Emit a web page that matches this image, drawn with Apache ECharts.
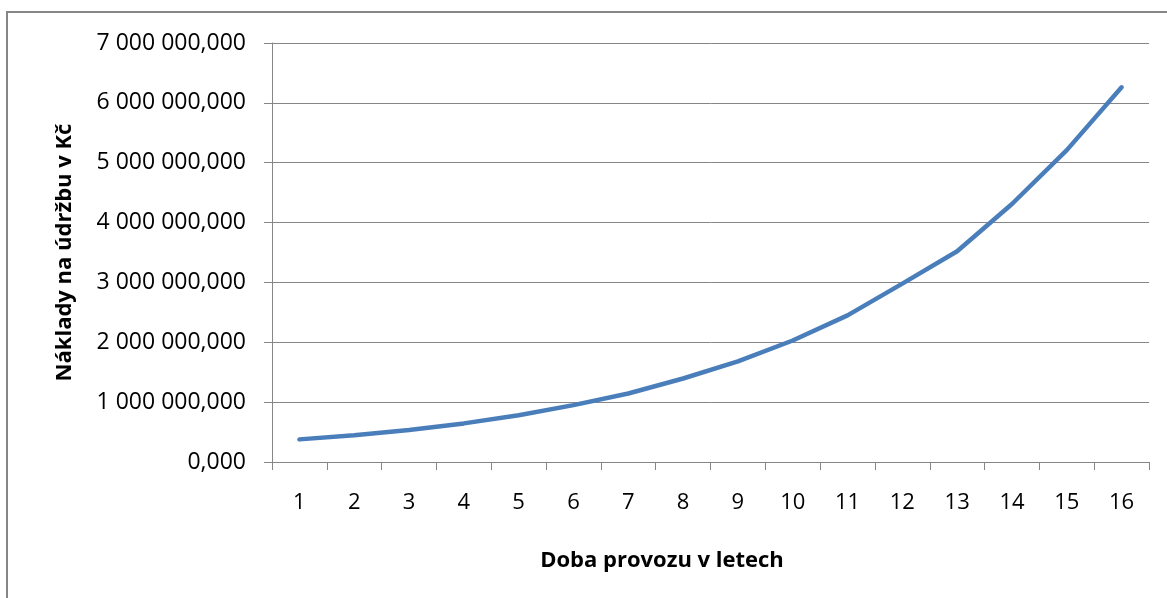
<!DOCTYPE html>
<html>
<head>
  <meta charset="UTF-8">
  <title>Náklady na údržbu</title>
  <script src="https://cdn.jsdelivr.net/npm/echarts@6/dist/echarts.min.js"></script>
  <style>
    html, body { margin: 0; padding: 0; background: #fff; }
    #main { width: 1167px; height: 598px; }
  </style>
</head>
<body>
  <div id="main"></div>
<script>
  // years of operation
  const years = ['1', '2', '3', '4', '5', '6', '7', '8', '9', '10', '11', '12', '13', '14', '15', '16'];
  // maintenance cost in CZK
  const costs = [378000, 445000, 533000, 645000, 780000, 950000, 1145000, 1395000, 1680000, 2030000, 2450000, 2980000, 3520000, 4310000, 5210000, 6260000];

  const xName = 'Doba provozu v letech';
  const yName = 'Náklady na údržbu v Kč';
  const font = '"Open Sans", "Liberation Sans", sans-serif';
  const grey = '#868686';

  // 7000000 -> "7 000 000,000"
  function fmt(v) {
    const int = Math.round(v).toString().replace(/\B(?=(\d{3})+(?!\d))/g, ' ');
    return int + ',000';
  }

  const chart = echarts.init(document.getElementById('main'), null, { renderer: 'canvas' });
  chart.setOption({
    animation: false,
    textStyle: { fontFamily: font, color: '#000' },
    graphic: [{
      type: 'rect',
      shape: { x: 7, y: 12, width: 1300, height: 800 },
      style: { fill: 'none', stroke: grey, lineWidth: 2 },
      silent: true
    }],
    title: {
      text: xName,
      left: 657,
      top: 545,
      textAlign: 'center',
      textStyle: { fontFamily: font, fontSize: 22, fontWeight: 'bold', color: '#000' }
    },
    grid: { left: 272, right: 18, top: 43, bottom: 136 },
    xAxis: {
      type: 'category',
      data: years,
      boundaryGap: true,
      axisLine: { lineStyle: { color: grey, width: 1 } },
      axisTick: { show: true, length: 8, lineStyle: { color: grey } },
      axisLabel: { color: '#000', fontSize: 22, fontFamily: font, margin: 30 }
    },
    yAxis: {
      type: 'value',
      min: 0,
      max: 7000000,
      interval: 1000000,
      name: yName,
      nameLocation: 'middle',
      nameGap: 196,
      nameTextStyle: { color: '#000', fontSize: 22, fontWeight: 'bold', fontFamily: font },
      axisLine: { show: true, lineStyle: { color: grey, width: 1 } },
      axisTick: { show: true, length: 8, lineStyle: { color: grey } },
      splitLine: { lineStyle: { color: grey, width: 1 } },
      axisLabel: { color: '#000', fontSize: 23, fontFamily: font, margin: 26, formatter: fmt }
    },
    series: [{
      type: 'line',
      data: costs,
      smooth: false,
      symbol: 'none',
      lineStyle: { color: '#4a7ebb', width: 4.5, cap: 'round', join: 'round' }
    }]
  });
</script>
</body>
</html>
